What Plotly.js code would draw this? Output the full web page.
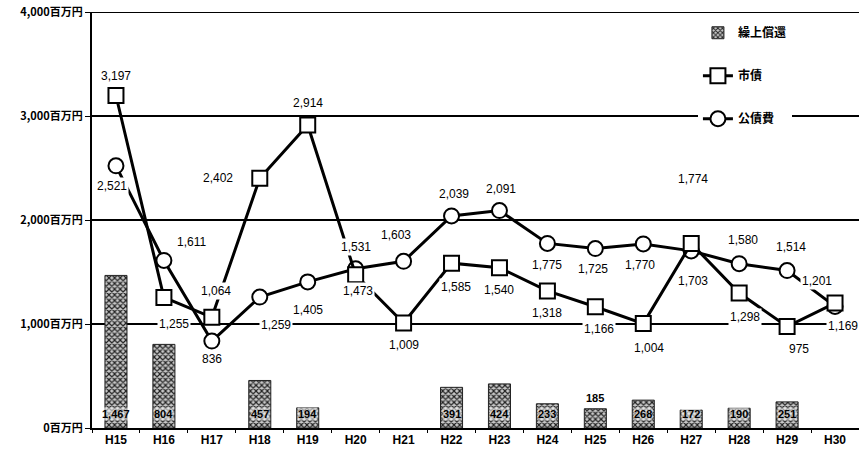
<!DOCTYPE html>
<html><head><meta charset="utf-8">
<script src="https://cdn.plot.ly/plotly-3.0.1.min.js"></script>
<style>html,body{margin:0;padding:0;background:#fff}#chart{width:859px;height:449px}</style>
</head><body><div id="chart"></div>
<script>
const categories = ['H15','H16','H17','H18','H19','H20','H21','H22','H23','H24','H25','H26','H27','H28','H29','H30'];
const repayment = [1467,804,0,457,194,0,0,391,424,233,185,268,172,190,251,0];
const bonds = [3197,1255,1064,2402,2914,1473,1009,1585,1540,1318,1166,1004,1774,1298,975,1201];
const debtService = [2521,1611,836,1259,1405,1531,1603,2039,2091,1775,1725,1770,1703,1580,1514,1169];
const yTickVals = [0,1000,2000,3000,4000];
const yTickText = ['0百万円','1,000百万円','2,000百万円','3,000百万円','4,000百万円'];
const seriesNames = ['繰上償還','市債','公債費'];

// label placement (pixel offsets) — layout only
const bondOffsets = [[0,20],[10,-27],[4,26],[-42,0],[0,22],[2,-16],[0,-22],[4,-24],[0,-22],[0,-22],[4,-22],[6,-24],[2,65],[6,-24],[12,-22],[-18,22]];
const debtOffsets = [[-4,-20],[28,18],[0,-18],[16,-28],[0,-28],[0,22],[-8,26],[2,22],[2,22],[0,-22],[-2,-20],[-3,-21],[2,-30],[4,24],[4,24],[8,-20]];
const barLabelLift = [14,14,14,14,14,14,14,14,14,14,30,14,14,14,14,14];

const fmt = v => v.toLocaleString('en-US');
const numFont = {family:'"Liberation Sans", Arial, sans-serif', size:12, color:'#000'};

const traces = [
  {type:'bar', name:seriesNames[0], x:categories, y:repayment.map(v => v > 0 ? v : null),
   width:0.46, legendgroup:'a', legendrank:1,
   marker:{color:'#aaa', line:{color:'#222', width:1},
     pattern:{shape:'x', fgcolor:'#222', bgcolor:'#c8c8c8', size:4, solidity:0.5}},
   hoverinfo:'skip'},
  {type:'scatter', mode:'lines+markers', name:seriesNames[2], x:categories, y:debtService,
   legendgroup:'c', legendrank:3,
   line:{color:'#000', width:3},
   marker:{symbol:'circle', size:15, color:'#fff', line:{color:'#000', width:2}},
   hoverinfo:'skip'},
  {type:'scatter', mode:'lines+markers', name:seriesNames[1], x:categories, y:bonds,
   legendgroup:'b', legendrank:2,
   line:{color:'#000', width:3},
   marker:{symbol:'square', size:15, color:'#fff', line:{color:'#000', width:2}},
   hoverinfo:'skip'}
];

const annotations = [];
bonds.forEach((v,i) => annotations.push({x:categories[i], y:v, text:fmt(v), showarrow:false,
  xshift:bondOffsets[i][0], yshift:bondOffsets[i][1], font:numFont, bgcolor:'#fff', borderpad:1}));
debtService.forEach((v,i) => annotations.push({x:categories[i], y:v, text:fmt(v), showarrow:false,
  xshift:debtOffsets[i][0], yshift:debtOffsets[i][1], font:numFont, bgcolor:'#fff', borderpad:1}));
repayment.forEach((v,i) => { if (v > 0) annotations.push({x:categories[i], y:0, text:'<b>'+fmt(v)+'</b>', showarrow:false,
  yshift:barLabelLift[i], bgcolor:'rgba(255,255,255,0.55)', borderpad:0,
  font:{family:'"Liberation Sans", Arial, sans-serif', size:11, color:'#000'}}); });

const layout = {
  width:859, height:449,
  margin:{l:92, r:0, t:12, b:21},
  paper_bgcolor:'#fff', plot_bgcolor:'#fff',
  showlegend:true,
  legend:{x:0.79, y:0.985, xanchor:'left', yanchor:'top', bgcolor:'#fff',
    font:{family:'"Noto Sans CJK JP", sans-serif', size:12, color:'#000', weight:'bold'},
    tracegroupgap:24, itemwidth:30, traceorder:'grouped'},
  xaxis:{type:'category', range:[-0.5,15.5], showline:true, linecolor:'#000', linewidth:2,
    ticks:'outside', tickson:'boundaries', ticklen:3, tickcolor:'#000',
    tickfont:{family:'"Liberation Sans", Arial, sans-serif', size:12, color:'#000', weight:'bold'},
    showgrid:false, fixedrange:true},
  yaxis:{range:[0,4000], tickvals:yTickVals, ticktext:yTickText,
    showline:true, linecolor:'#000', linewidth:2, ticks:'outside', ticklen:5, tickcolor:'#000',
    showgrid:true, gridcolor:'#000', gridwidth:2, zeroline:false,
    tickfont:{family:'"Noto Sans CJK JP", sans-serif', size:11, color:'#000', weight:'bold'},
    fixedrange:true},
  shapes:[{type:'line', xref:'paper', x0:0, x1:1, yref:'y', y0:4000, y1:4000,
    line:{color:'#000', width:2}, layer:'below'}],
  annotations:annotations
};

Plotly.newPlot('chart', traces, layout, {staticPlot:true, displayModeBar:false});
</script>
</body></html>
